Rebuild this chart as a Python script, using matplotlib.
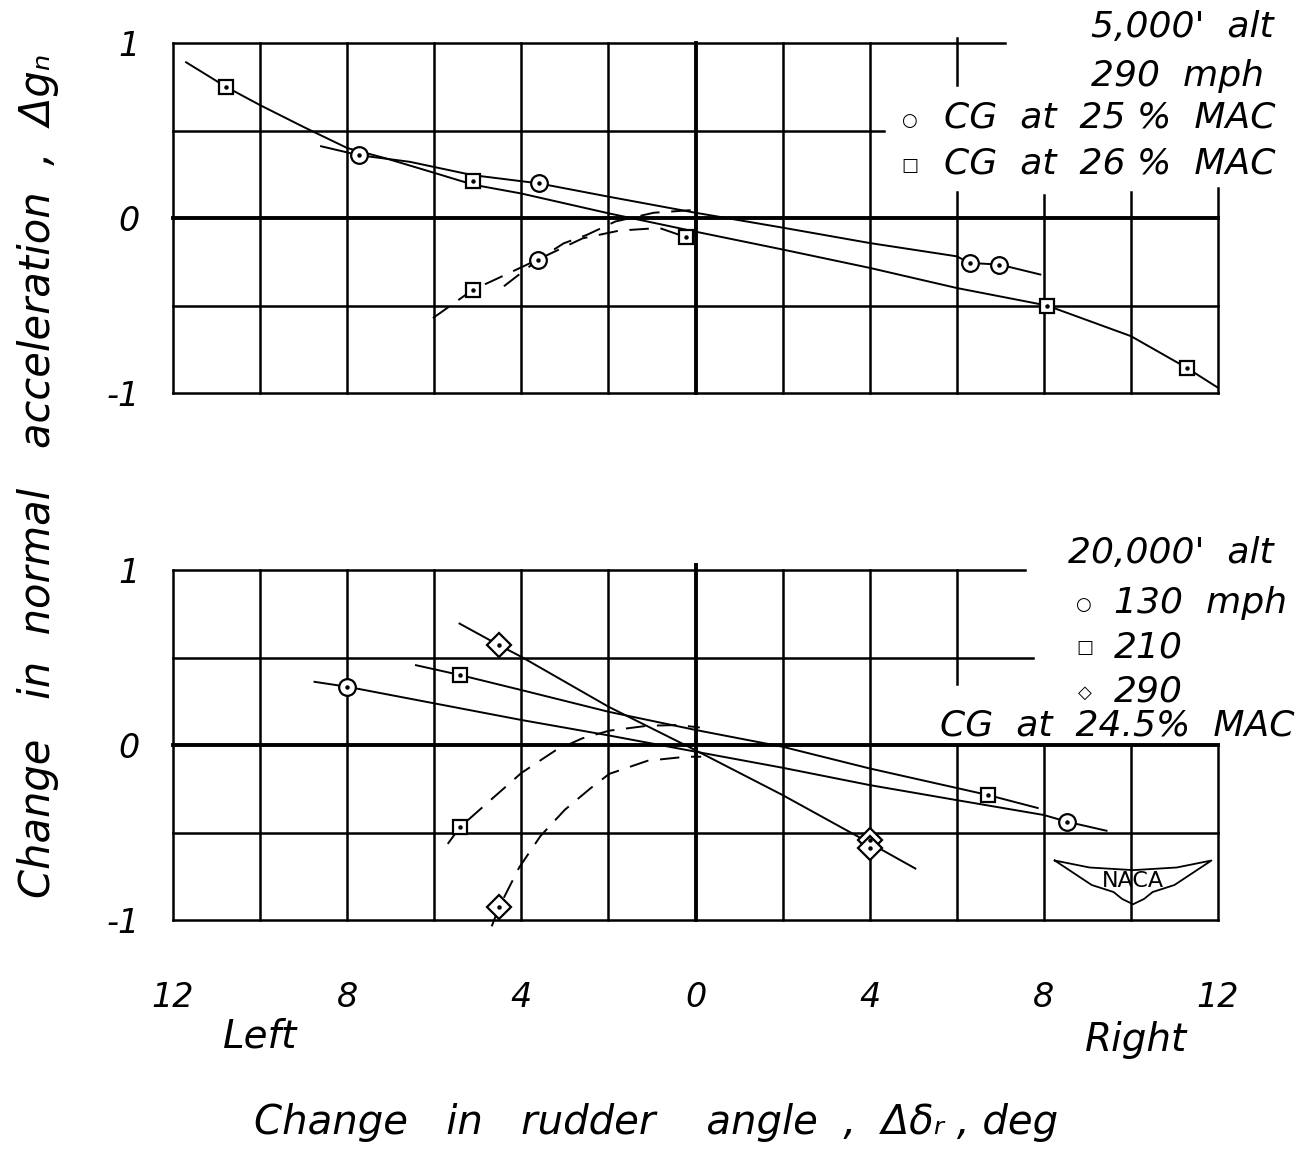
import matplotlib.pyplot as plt

# ---- top panel: 5,000 ft alt, 290 mph ----
# CG at 25 % MAC (circles)
c25_x = [-7.73, -3.60, 6.30, 6.98]
c25_y = [0.359, 0.198, -0.257, -0.266]
c25_dash_x = [-3.62]
c25_dash_y = [-0.240]
# CG at 26 % MAC (squares)
s26_x = [-10.78, -5.12, 8.07, 11.28]
s26_y = [0.749, 0.211, -0.500, -0.856]
s26_dash_x = [-5.12, -0.21]
s26_dash_y = [-0.411, -0.110]

# faired curves
c25_fair_x = [-8.6, -7.73, -6.56, -5.12, -3.60, -2.0, 0.0, 2.0, 4.0, 6.0, 6.30, 6.98, 7.92]
c25_fair_y = [0.41, 0.359, 0.321, 0.245, 0.198, 0.122, 0.030, -0.055, -0.143, -0.219, -0.257, -0.266, -0.323]
s26_fair_x = [-11.7, -10.78, -10.0, -9.0, -8.0, -7.1, -6.0, -5.1, -4.0, -2.0, 0.0, 2.0, 4.0, 6.0, 8.07, 10.0, 11.28, 12.0]
s26_fair_y = [0.89, 0.749, 0.645, 0.52, 0.40, 0.34, 0.258, 0.19, 0.14, 0.027, -0.078, -0.18, -0.285, -0.40, -0.50, -0.675, -0.856, -0.97]
c25_dfair_x = [-4.40, -3.62, -3.03, -2.50, -1.84, -0.96, -0.04]
c25_dfair_y = [-0.39, -0.240, -0.145, -0.097, -0.020, 0.030, 0.046]
s26_dfair_x = [-6.03, -5.12, -4.62, -3.60, -2.59, -1.75, -0.83, -0.21]
s26_dfair_y = [-0.572, -0.411, -0.354, -0.235, -0.116, -0.072, -0.057, -0.110]

# ---- bottom panel: 20,000 ft alt, CG at 24.5 % MAC ----
c130_x = [-8.00, 8.54]
c130_y = [0.333, -0.439]
s210_x = [-5.41, 6.72]
s210_y = [0.400, -0.286]
s210_dash_x = [-5.41]
s210_dash_y = [-0.470]
d290_x = [-4.51, 4.00, 4.00]
d290_y = [0.570, -0.544, -0.588]
d290_dash_x = [-4.51]
d290_dash_y = [-0.926]

c130_fair_x = [-8.75, -8.0, -6.0, -4.0, -2.0, 0.0, 2.0, 4.0, 6.0, 8.0, 8.54, 9.44]
c130_fair_y = [0.361, 0.333, 0.238, 0.143, 0.055, -0.038, -0.13, -0.229, -0.315, -0.40, -0.439, -0.49]
s210_fair_x = [-6.42, -5.41, -4.0, -2.0, 0.0, 2.0, 4.0, 6.72, 7.86]
s210_fair_y = [0.456, 0.400, 0.314, 0.19, 0.086, -0.01, -0.134, -0.286, -0.36]
d290_fair_x = [-5.42, -4.51, -4.0, -2.0, 0.0, 2.0, 4.0, 5.05]
d290_fair_y = [0.694, 0.570, 0.504, 0.219, -0.03, -0.286, -0.56, -0.706]
s210_dfair_x = [-5.69, -5.41, -4.79, -4.0, -3.21, -2.6, -1.98, -1.1, -0.4, 0.1]
s210_dfair_y = [-0.565, -0.470, -0.333, -0.16, -0.03, 0.038, 0.082, 0.110, 0.114, 0.10]
d290_dfair_x = [-4.68, -4.51, -4.05, -3.56, -3.0, -2.4, -1.98, -1.1, -0.22, 0.13]
d290_dfair_y = [-1.036, -0.926, -0.70, -0.52, -0.37, -0.245, -0.165, -0.09, -0.067, -0.067]

xtick_vals = [-12, -8, -4, 0, 4, 8, 12]
xtick_labels = ['12', '8', '4', '0', '4', '8', '12']
ytick_vals = [-1, 0, 1]
ytick_labels = ['-1', '0', '1']

FONT = dict(family='DejaVu Sans', style='oblique')
LW = 1.4
DASH = (0, (10, 6))

W, H = 1314, 1156
fig = plt.figure(figsize=(W / 100, H / 100), dpi=100)
ax1 = fig.add_axes([173 / W, 1 - 393 / H, 1045 / W, 350 / H])
ax2 = fig.add_axes([173 / W, 1 - 920 / H, 1045 / W, 350 / H])


def frame(ax, hl, vl):
    ax.set_xlim(-12, 12)
    ax.set_ylim(-1, 1)
    for s in ax.spines.values():
        s.set_visible(False)
    for y, x0, x1 in hl:
        lw = 2.8 if y == 0 else 1.8
        ax.plot([x0, x1], [y, y], color='black', lw=lw, clip_on=False, zorder=1)
    for x, y0, y1 in vl:
        lw = 2.8 if x == 0 else 1.8
        ax.plot([x, x], [y0, y1], color='black', lw=lw, clip_on=False, zorder=1)
    ax.set_yticks(ytick_vals)
    ax.set_yticklabels(ytick_labels, fontsize=24, **FONT)
    ax.tick_params(length=0, axis='y', pad=24)
    ax.tick_params(length=0, axis='x')


def pts(ax, x, y, m, ms):
    ax.plot(x, y, ls='none', marker=m, ms=ms, mfc='white', mec='black',
            mew=1.6, zorder=5, clip_on=False)
    ax.plot(x, y, ls='none', marker='o', ms=2.2, color='black', zorder=6, clip_on=False)


# top panel grid (partial frame where the legend sits)
frame(ax1,
      [(1, -12, 7.1), (0.5, -12, 4.33), (0, -12, 12), (-0.5, -12, 12), (-1, -12, 12)],
      [(-12, -1, 1), (-10, -1, 1), (-8, -1, 1), (-6, -1, 1), (-4, -1, 1), (-2, -1, 1),
       (0, -1, 1), (2, -1, 1), (4, -1, 1), (6, 0.76, 1.03), (6, -1, 0.15),
       (8, -1, 0.13), (10, -1, 0.15), (12, -1, 0.17)])
ax1.set_xticks([])

frame(ax2,
      [(1, -12, 7.56), (0.5, -12, 7.75), (0, -12, 12), (-0.5, -12, 12), (-1, -12, 12)],
      [(-12, -1, 1), (-10, -1, 1), (-8, -1, 1), (-6, -1, 1), (-4, -1, 1), (-2, -1, 1),
       (0, -1, 1.03), (2, -1, 1), (4, -1, 1), (6, 0.35, 1), (6, -1, 0),
       (8, -1, 0), (10, -1, 0), (12, -1, 0)])
ax2.set_xticks(xtick_vals)
ax2.set_xticklabels(xtick_labels, fontsize=24, **FONT)
ax2.tick_params(axis='x', pad=44)

# faired curves
ax1.plot(c25_fair_x, c25_fair_y, color='black', lw=LW, clip_on=False)
ax1.plot(s26_fair_x, s26_fair_y, color='black', lw=LW, clip_on=False)
ax1.plot(c25_dfair_x, c25_dfair_y, color='black', lw=LW, ls=DASH)
ax1.plot(s26_dfair_x, s26_dfair_y, color='black', lw=LW, ls=DASH)

ax2.plot(c130_fair_x, c130_fair_y, color='black', lw=LW)
ax2.plot(s210_fair_x, s210_fair_y, color='black', lw=LW)
ax2.plot(d290_fair_x, d290_fair_y, color='black', lw=LW)
ax2.plot(s210_dfair_x, s210_dfair_y, color='black', lw=LW, ls=DASH)
ax2.plot(d290_dfair_x, d290_dfair_y, color='black', lw=LW, ls=DASH, clip_on=False)

# data points
pts(ax1, c25_x + c25_dash_x, c25_y + c25_dash_y, 'o', 12)
pts(ax1, s26_x + s26_dash_x, s26_y + s26_dash_y, 's', 10)
pts(ax2, c130_x, c130_y, 'o', 12)
pts(ax2, s210_x + s210_dash_x, s210_y + s210_dash_y, 's', 10)
pts(ax2, d290_x + d290_dash_x, d290_y + d290_dash_y, 'D', 12)

# NACA wing logo
wing_x = [8.25, 9.1, 9.6, 9.8, 10.05, 10.3, 10.5, 11.0, 11.85, 11.05, 10.05, 9.05, 8.25]
wing_y = [-0.66, -0.80, -0.84, -0.88, -0.91, -0.88, -0.84, -0.80, -0.66, -0.70, -0.715, -0.70, -0.66]
ax2.plot(wing_x, wing_y, color='black', lw=1.3)
ax2.text(10.05, -0.775, 'NACA', ha='center', va='center', fontsize=16,
         family='DejaVu Sans')

# legends (hand lettered in the original)
T = dict(fontsize=26, ha='right', va='center', **FONT)
fig.text(1274 / W, 1 - 27 / H, "5,000'  alt", **T)
fig.text(1264 / W, 1 - 76 / H, "290  mph", **T)
fig.text(1276 / W, 1 - 118 / H, "CG  at  25 %  MAC", **T)
fig.text(1276 / W, 1 - 163 / H, "CG  at  26 %  MAC", **T)
S = dict(fontsize=13, ha='center', va='center', family='DejaVu Sans')
fig.text(909 / W, 1 - 121 / H, "○", **S)
fig.text(910 / W, 1 - 166 / H, "□", **S)

L = dict(fontsize=26, ha='left', va='center', **FONT)
fig.text(1068 / W, 1 - 553 / H, "20,000'  alt", **L)
fig.text(1114 / W, 1 - 603 / H, "130  mph", **L)
fig.text(1114 / W, 1 - 647 / H, "210", **L)
fig.text(1114 / W, 1 - 692 / H, "290", **L)
fig.text(1083 / W, 1 - 605 / H, "○", **S)
fig.text(1085 / W, 1 - 648 / H, "□", **S)
fig.text(1085 / W, 1 - 693 / H, "◇", **S)
fig.text(940 / W, 1 - 725 / H, "CG  at  24.5%  MAC", **L)

fig.text(260 / W, 1 - 1037 / H, "Left", fontsize=28, ha='center', va='center', **FONT)
fig.text(1136 / W, 1 - 1040 / H, "Right", fontsize=28, ha='center', va='center', **FONT)
fig.text(656 / W, 1 - 1123 / H, "Change   in   rudder    angle  ,  Δδᵣ , deg", fontsize=29,
         ha='center', va='center', **FONT)
fig.text(38 / W, 1 - 476 / H, "Change   in  normal   acceleration  ,  Δgₙ", fontsize=30,
         rotation=90, ha='center', va='center', **FONT)

fig.savefig('out.png', dpi=100, facecolor='white')
